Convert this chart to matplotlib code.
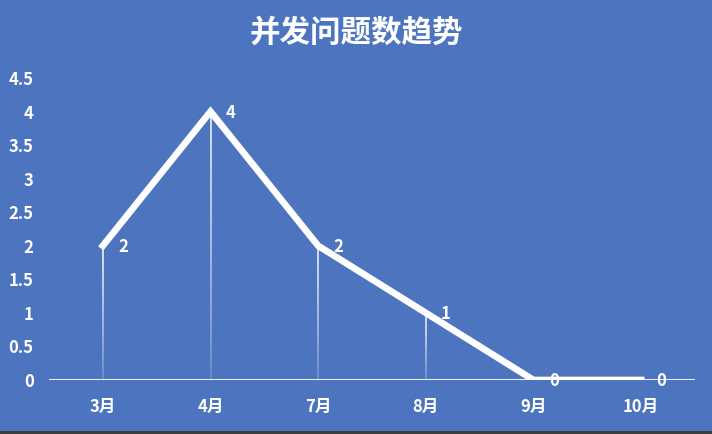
import numpy as np
import matplotlib
matplotlib.use("Agg")
import matplotlib.pyplot as plt
from matplotlib.collections import LineCollection

plt.rcParams['font.family'] = ['Noto Sans CJK SC', 'DejaVu Sans']

months = ['3月', '4月', '7月', '8月', '9月', '10月']
counts = [2, 4, 2, 1, 0, 0]
yticks = [0, 0.5, 1, 1.5, 2, 2.5, 3, 3.5, 4, 4.5]
ytick_labels = ['0', '0.5', '1', '1.5', '2', '2.5', '3', '3.5', '4', '4.5']

bg = '#4d74be'

fig = plt.figure(figsize=(7.12, 4.34), dpi=100, facecolor=bg)
ax = fig.add_axes([49 / 712, 54 / 434, 646 / 712, 302 / 434])
ax.set_facecolor(bg)

x = np.arange(len(months))

# drop lines from each point to the axis, fading out towards the bottom
n = 40
for xi, yi in zip(x, counts):
    if yi <= 0:
        continue
    ys = np.linspace(yi, 0, n + 1)
    segs = [[(xi, ys[k]), (xi, ys[k + 1])] for k in range(n)]
    alphas = np.linspace(1.0, 0.1, n) ** 0.7
    cols = [(1, 1, 1, a) for a in alphas]
    ax.add_collection(LineCollection(segs, colors=cols, linewidths=1.1, zorder=2))

ax.axhline(0, color='white', lw=2, zorder=3)
ax.plot(x, counts, color='white', lw=4.8, solid_joinstyle='miter', zorder=4)

for xi, yi in zip(x, counts):
    ax.annotate(str(yi), (xi, yi), xytext=(11, -1), textcoords='offset points',
                ha='left', va='center', color='white', fontsize=12, fontweight='bold', zorder=5)

ax.set_xlim(-0.5, len(months) - 0.5)
ax.set_ylim(0, 4.5)
ax.set_xticks(x)
ax.set_xticklabels(months, color='white', fontsize=12, fontweight='bold')
ax.set_yticks(yticks)
ax.set_yticklabels(ytick_labels, color='white', fontsize=12, fontweight='bold')
ax.tick_params(length=0)
ax.tick_params(axis='y', pad=11)
ax.tick_params(axis='x', pad=13)
for s in ax.spines.values():
    s.set_visible(False)

fig.text(0.5, 1 - 33 / 434, '并发问题数趋势', ha='center', va='center',
         color='white', fontsize=22, fontweight='bold')

# dark strip at the very bottom edge of the screenshot
fig.patches.append(plt.Rectangle((0, 0), 1, 3 / 434, transform=fig.transFigure,
                                 facecolor='#3c3c3c', edgecolor='none'))

fig.savefig('out.png', dpi=100, facecolor=bg)
